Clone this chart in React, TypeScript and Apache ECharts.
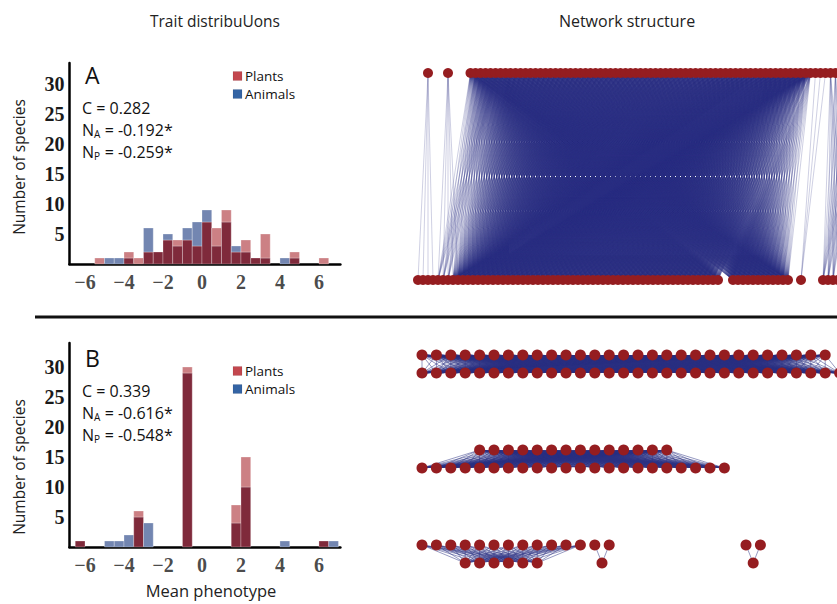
import React, { useEffect, useRef } from "react";
import * as echarts from "echarts";

// ---------- Histogram data (bins of width 0.5) ----------
const binStarts = [-6.5, -6, -5.5, -5, -4.5, -4, -3.5, -3, -2.5, -2, -1.5, -1, -0.5, 0, 0.5, 1, 1.5, 2, 2.5, 3, 3.5, 4, 4.5, 5, 5.5, 6, 6.5];
const binWidth = 0.5;
const plantsA = [0, 0, 1, 0, 0, 2, 1, 2, 2, 4, 4, 4, 3, 7, 6, 9, 2, 4, 1, 5, 0, 0, 2, 0, 0, 1, 0];
const animalsA = [0, 0, 0, 1, 1, 1, 0, 6, 2, 5, 3, 6, 7, 9, 3, 7, 3, 2, 1, 1, 0, 1, 1, 0, 0, 0, 0];
const plantsB = [1, 0, 0, 0, 0, 0, 6, 0, 0, 0, 0, 30, 0, 0, 0, 0, 7, 15, 0, 0, 0, 0, 0, 0, 0, 1, 0];
const animalsB = [1, 0, 0, 1, 1, 2, 5, 4, 0, 0, 0, 29, 0, 0, 0, 0, 4, 10, 0, 0, 0, 1, 0, 0, 0, 1, 1];
const xTickValues = [-6, -4, -2, 0, 2, 4, 6];
const yTickValues = [5, 10, 15, 20, 25, 30];
const statsA = ["0.282", "-0.192*", "-0.259*"];
const statsB = ["0.339", "-0.616*", "-0.548*"];
const legendNames = ["Plants", "Animals"];

// ---------- Network A: node groups per row [slotStart, count] ----------
const netATop = [[2, 1], [6, 1], [10.5, 80]];
const netABottom = [[0, 61], [63, 1], [64, 11], [76.6, 1], [81, 6]];
// edge blocks [topFrom, topTo, bottomFrom, bottomTo]: all pairs inside are linked
const netAEdges = [
  [2, 2, 0, 3],
  [6, 6, 4, 8],
  [10.5, 78.5, 7, 75],
  [10.5, 15.5, 4, 6],
  [79.5, 81.5, 76.6, 76.6],
  [82.5, 90, 81, 87],
];

// ---------- Network B: modules [row, topStart, topCount, bottomStart, bottomCount] ----------
const netBModules = [
  [0, 0, 29, 0, 30],
  [1, 4, 14, 0, 22],
  [2, 0, 12, 3, 6],
  [2, 12, 2, 12.5, 1],
  [2, 22.5, 2, 23, 1],
];

const DARK = "#7f2a3b";
const PINK = "#cc8084";
const BLUE = "#7386b1";
const NODE = "#951d20";
const EDGE = "#2b3183";
const SANS = "'Open Sans'";
const SERIF = "'Liberation Serif', 'Times New Roman', serif";
const PLANT_SW = "#c3474e";
const ANIMAL_SW = "#3464a4";

const expand = (groups: number[][]) =>
  groups.flatMap(([s, c]) => Array.from({ length: c }, (_, k) => s + k));
const inRange = (v: number, a: number, b: number) => v >= a - 1e-6 && v <= b + 1e-6;

function buildNetA() {
  const top = expand(netATop);
  const bot = expand(netABottom);
  const nodes = [...top.map((x) => [x, 0]), ...bot.map((x) => [x, 1])];
  const edges: any[] = [];
  netAEdges.forEach(([t0, t1, b0, b1]) => {
    top.filter((t) => inRange(t, t0, t1)).forEach((t) => {
      bot.filter((b) => inRange(b, b0, b1)).forEach((b) => {
        edges.push({ coords: [[t, 0], [b, 1]] });
      });
    });
  });
  return { nodes, edges };
}

function buildNetB() {
  const rowGap = 95;
  const levelGap = 18;
  const nodes: number[][] = [];
  const edges: any[] = [];
  netBModules.forEach(([row, ts, tc, bs, bc]) => {
    const yt = row * rowGap;
    const yb = yt + levelGap;
    const top = Array.from({ length: tc }, (_, k) => ts + k);
    const bot = Array.from({ length: bc }, (_, k) => bs + k);
    top.forEach((t) => nodes.push([t, yt]));
    bot.forEach((b) => nodes.push([b, yb]));
    top.forEach((t) => bot.forEach((b) => edges.push({ coords: [[t, yt], [b, yb]] })));
  });
  return { nodes, edges };
}

const renderHist = (params: any, api: any) => {
  const x0 = api.value(0);
  const x1 = api.value(1);
  const p = api.value(2);
  const a = api.value(3);
  const lo = Math.min(p, a);
  const hi = Math.max(p, a);
  const children: any[] = [];
  const rect = (y0: number, y1: number, fill: string) => {
    const pa = api.coord([x0, y1]);
    const pb = api.coord([x1, y0]);
    return {
      type: "rect",
      shape: { x: pa[0], y: pa[1], width: pb[0] - pa[0], height: pb[1] - pa[1] },
      style: { fill, stroke: "rgba(255,255,255,0.45)", lineWidth: 0.6 },
    };
  };
  if (lo > 0) children.push(rect(0, lo, DARK));
  if (hi > lo) children.push(rect(lo, hi, p > a ? PINK : BLUE));
  return { type: "group", children };
};

const histXAxis = (gridIndex: number) => ({
  type: "value",
  gridIndex,
  min: -6.8,
  max: 7.1,
  axisLine: { show: true, onZero: false, lineStyle: { color: "#000", width: 2.5 } },
  axisTick: { show: false },
  splitLine: { show: false },
  axisLabel: { show: false },
});

const histYAxis = (gridIndex: number, max: number) => ({
  type: "value",
  gridIndex,
  min: 0,
  max,
  axisLine: { show: true, onZero: false, lineStyle: { color: "#000", width: 2.5 } },
  axisTick: { show: false },
  splitLine: { show: false },
  axisLabel: {
    customValues: yTickValues,
    fontFamily: SERIF,
    fontWeight: 700,
    fontSize: 20,
    color: "#1a1a1a",
    margin: 5,
  },
});

// x tick labels placed through the axis scale (invisible points at y = 0)
const xTickLabelSeries = (index: number) => ({
  type: "scatter",
  xAxisIndex: index,
  yAxisIndex: index,
  symbol: "circle",
  symbolSize: 1,
  silent: true,
  clip: false,
  itemStyle: { color: "rgba(0,0,0,0)" },
  data: xTickValues.map((v) => [v, 0]),
  label: {
    show: true,
    position: "bottom",
    distance: 7,
    formatter: (p: any) => {
      const v = p.value[0];
      return v < 0 ? "\u2212" + Math.abs(v) : String(v);
    },
    fontFamily: SERIF,
    fontWeight: 700,
    fontSize: 20,
    color: "#1a1a1a",
  },
  z: 5,
});

const hiddenAxis = (gridIndex: number, min: number, max: number, inverse = false) => ({
  type: "value",
  gridIndex,
  min,
  max,
  inverse,
  show: false,
});

function panelTexts(letter: string, stats: string[], top: number, legendTop: number) {
  const t: any[] = [];
  const txt = (x: number, y: number, text: string, size: number) => ({
    type: "text",
    x,
    y,
    style: { text, fontFamily: SANS, fontSize: size, fill: "#111", align: "left", verticalAlign: "middle" },
  });
  t.push(txt(85, top, letter, 23));
  t.push(txt(82, top + 33, "C = " + stats[0], 16));
  t.push(txt(82, top + 55, "N", 16));
  t.push(txt(94, top + 59, "A", 10));
  t.push(txt(100.5, top + 55, " = " + stats[1], 16));
  t.push(txt(82, top + 77, "N", 16));
  t.push(txt(94, top + 81, "P", 10));
  t.push(txt(100.5, top + 77, " = " + stats[2], 16));
  [PLANT_SW, ANIMAL_SW].forEach((c, i) => {
    t.push({
      type: "rect",
      shape: { x: 233, y: legendTop - 4.5 + i * 18, width: 9, height: 9 },
      style: { fill: c, stroke: "rgba(0,0,0,0.15)", lineWidth: 0.5 },
    });
    t.push(txt(245, legendTop + i * 18, legendNames[i], 13.5));
  });
  return t;
}

export default function App() {
  const ref = useRef<HTMLDivElement>(null);
  useEffect(() => {
    if (!ref.current) return;
    const chart = echarts.init(ref.current, undefined, { renderer: "svg" });
    const netA = buildNetA();
    const netB = buildNetB();
    const histDataA = binStarts.map((s, i) => [s, s + binWidth, plantsA[i], animalsA[i]]);
    const histDataB = binStarts.map((s, i) => [s, s + binWidth, plantsB[i], animalsB[i]]);

    const sansText = (x: number, y: number, text: string, size: number, rotation = 0) => ({
      type: "text",
      x,
      y,
      rotation,
      style: { text, fontFamily: SANS, fontSize: size, fill: "#222", align: "center", verticalAlign: "middle" },
    });

    const graphic: any[] = [
      sansText(215, 21, "Trait distribuUons", 15.5),
      sansText(627, 21, "Network structure", 16),
      {
        type: "line",
        shape: { x1: 35, y1: 317, x2: 837, y2: 317 },
        style: { stroke: "#111", lineWidth: 3 },
      },
      sansText(19, 167, "Number of species", 15.5, Math.PI / 2),
      sansText(19, 467, "Number of species", 15.5, Math.PI / 2),
      sansText(211, 590, "Mean phenotype", 16.5),
      ...panelTexts("A", statsA, 75, 76),
      ...panelTexts("B", statsB, 358, 371),
    ];

    chart.setOption({
      animation: false,
      backgroundColor: "#fff",
      grid: [
        { left: 69.4, top: 63, width: 271, height: 201, outerBoundsMode: "none" },
        { left: 69.4, top: 343, width: 271, height: 204, outerBoundsMode: "none" },
        { left: 418, top: 73, width: 420, height: 207, outerBoundsMode: "none" },
        { left: 422, top: 355, width: 417.6, height: 208, outerBoundsMode: "none" },
      ],
      xAxis: [histXAxis(0), histXAxis(1), hiddenAxis(2, 0, 84), hiddenAxis(3, 0, 29)],
      yAxis: [histYAxis(0, 33.5), histYAxis(1, 34), hiddenAxis(2, 0, 1, true), hiddenAxis(3, 0, 208, true)],
      series: [
        {
          type: "custom",
          xAxisIndex: 0,
          yAxisIndex: 0,
          renderItem: renderHist,
          encode: { x: [0, 1], y: [2, 3] },
          data: histDataA,
          clip: false,
        },
        {
          type: "custom",
          xAxisIndex: 1,
          yAxisIndex: 1,
          renderItem: renderHist,
          encode: { x: [0, 1], y: [2, 3] },
          data: histDataB,
          clip: false,
        },
        xTickLabelSeries(0),
        xTickLabelSeries(1),
        {
          type: "lines",
          coordinateSystem: "cartesian2d",
          xAxisIndex: 2,
          yAxisIndex: 2,
          large: true,
          largeThreshold: 100,
          clip: false,
          silent: true,
          lineStyle: { color: EDGE, width: 0.7, opacity: 0.33 },
          data: netA.edges,
          z: 2,
        },
        {
          type: "scatter",
          xAxisIndex: 2,
          yAxisIndex: 2,
          symbolSize: 10,
          clip: false,
          silent: true,
          itemStyle: { color: NODE, opacity: 1 },
          data: netA.nodes,
          z: 3,
        },
        {
          type: "lines",
          coordinateSystem: "cartesian2d",
          xAxisIndex: 3,
          yAxisIndex: 3,
          large: true,
          largeThreshold: 100,
          clip: false,
          silent: true,
          lineStyle: { color: EDGE, width: 0.7, opacity: 0.7 },
          data: netB.edges,
          z: 2,
        },
        {
          type: "scatter",
          xAxisIndex: 3,
          yAxisIndex: 3,
          symbolSize: 11,
          clip: false,
          silent: true,
          itemStyle: { color: NODE, opacity: 1 },
          data: netB.nodes,
          z: 3,
        },
      ],
      graphic,
    });
    return () => chart.dispose();
  }, []);
  return (
    <div
      ref={ref}
      style={{ position: "fixed", left: 0, top: 0, width: 837, height: 604, background: "#fff" }}
    />
  );
}
